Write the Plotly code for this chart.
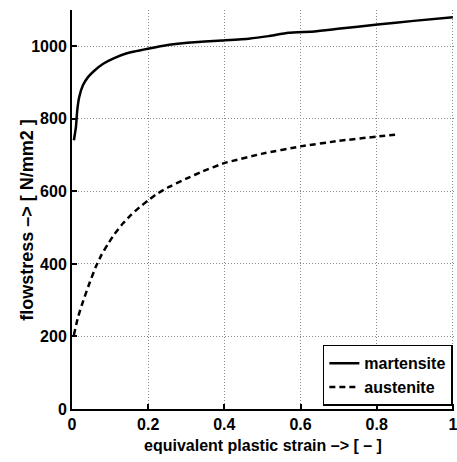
import plotly.graph_objects as go

# Flow curves: equivalent plastic strain [-] vs flow stress [N/mm2]
martensite_strain = [0.005, 0.0104, 0.0138, 0.019, 0.029, 0.042, 0.060, 0.082, 0.108,
                     0.142, 0.199, 0.255, 0.303, 0.394, 0.464, 0.516, 0.568, 0.637,
                     0.698, 0.802, 0.897, 1.0]
martensite_stress = [741, 778, 824, 860, 893, 915, 934, 952, 966,
                     980, 993, 1004, 1010, 1016, 1021, 1028, 1037, 1041,
                     1048, 1060, 1070, 1080]

austenite_strain = [0.005, 0.016, 0.030, 0.047, 0.0625, 0.077, 0.095, 0.112, 0.134,
                    0.155, 0.177, 0.200, 0.220, 0.250, 0.300, 0.343, 0.400, 0.500,
                    0.600, 0.700, 0.800, 0.858]
austenite_stress = [204, 254, 300, 350, 392, 424, 456, 483, 512,
                    535, 556, 575, 591, 610, 635, 655, 678, 704,
                    724, 739, 751, 757]

x_ticks = [0, 0.2, 0.4, 0.6, 0.8, 1]
x_tick_labels = ["0", "0.2", "0.4", "0.6", "0.8", "1"]
y_ticks = [0, 200, 400, 600, 800, 1000]
y_tick_labels = ["0", "200", "400", "600", "800", "1000"]

FONT = "Liberation Sans, Arial, sans-serif"

fig = go.Figure()
fig.add_trace(go.Scatter(
    x=martensite_strain, y=martensite_stress, mode="lines", name="<b>martensite</b>",
    legendgroup="m",
    line=dict(color="black", width=2.5, shape="spline", smoothing=0.4),
))
fig.add_trace(go.Scatter(
    x=austenite_strain, y=austenite_stress, mode="lines", name="<b>austenite</b>",
    legendgroup="a",
    line=dict(color="black", width=2.5, dash="6px,4px", shape="spline", smoothing=0.4),
))

axis_common = dict(
    showgrid=True, gridcolor="#8a8a8a", griddash="1px,2px", gridwidth=1,
    showline=True, linecolor="black", linewidth=2,
    ticks="inside", ticklen=5, tickwidth=1.5, tickcolor="black",
    zeroline=False, mirror=False,
    ticklabeloverflow="allow",
    tickfont=dict(family=FONT, size=16, color="black", weight="bold"),
)

fig.update_xaxes(range=[0, 1.003], tickvals=x_ticks, ticktext=x_tick_labels, **axis_common)
fig.update_yaxes(range=[0, 1100], tickvals=y_ticks, ticktext=y_tick_labels, **axis_common)

fig.add_annotation(
    text="<b>equivalent plastic strain –> [ – ]</b>", xref="paper", yref="paper",
    x=0.5, y=-0.091, xanchor="center", yanchor="middle", showarrow=False,
    font=dict(family=FONT, size=16, color="black"),
)
fig.add_annotation(
    text="<b>flowstress –> [ N/mm2 ]</b>", xref="paper", yref="paper",
    x=-0.118, y=0.474, xanchor="center", yanchor="middle", showarrow=False,
    textangle=-90,
    font=dict(family=FONT, size=18, color="black"),
)

fig.update_layout(
    width=457, height=462,
    margin=dict(l=72, r=0, t=10, b=53),
    plot_bgcolor="white", paper_bgcolor="white",
    showlegend=True,
    legend=dict(
        x=0.997, y=0.008, xanchor="right", yanchor="bottom",
        bgcolor="white", bordercolor="black", borderwidth=1.5,
        font=dict(family=FONT, size=16, color="black"),
        itemwidth=30, tracegroupgap=0,
    ),
)

fig.write_html("out.html")
